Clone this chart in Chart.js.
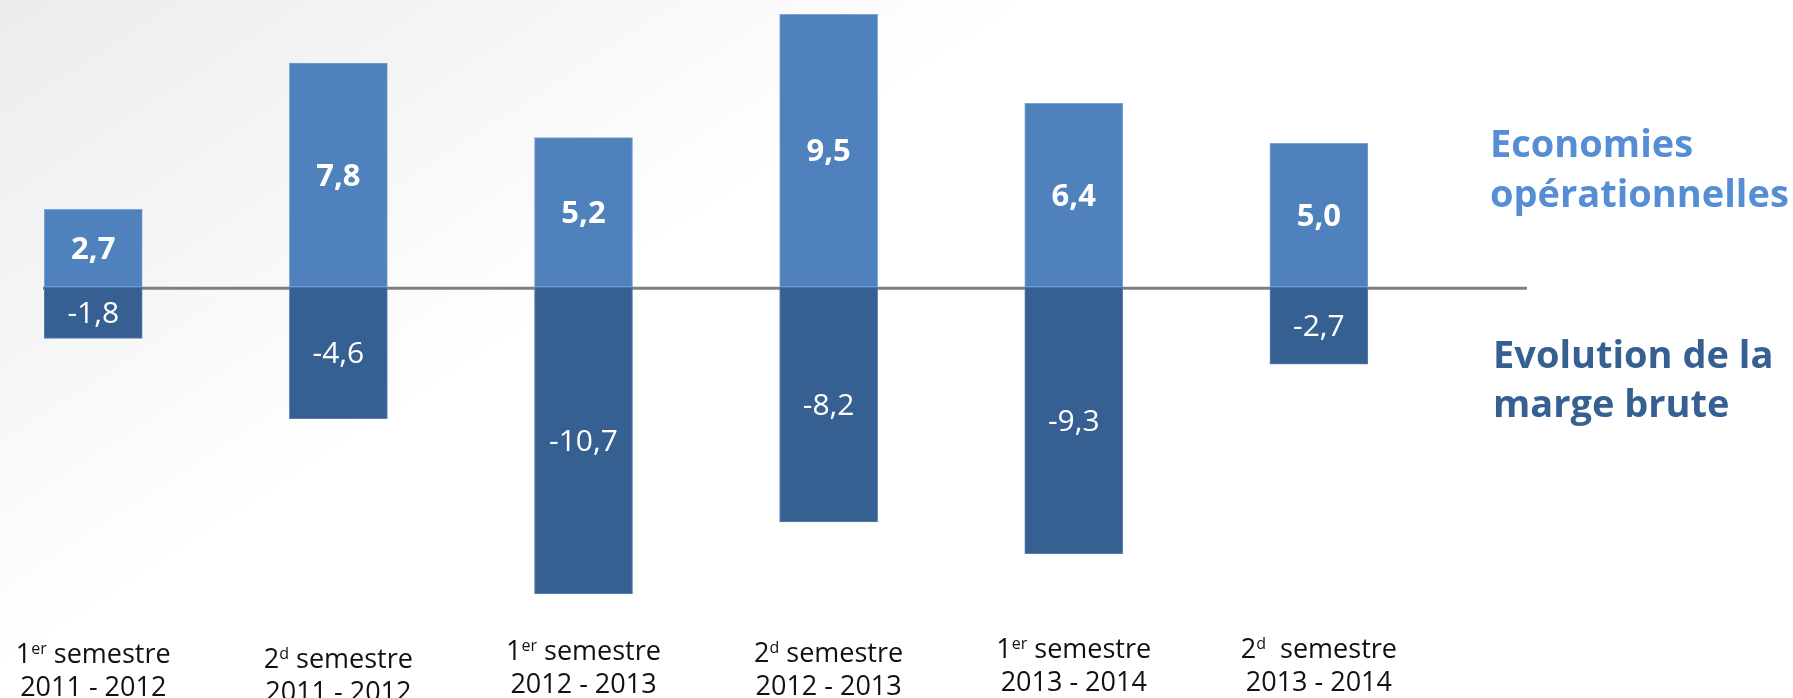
<!DOCTYPE html>
<html>
<head>
<meta charset="utf-8">
<script src="https://cdn.jsdelivr.net/npm/chart.js@4.4.1/dist/chart.umd.min.js"></script>
<style>
  html, body { margin: 0; padding: 0; }
  body {
    width: 1793px; height: 698px; overflow: hidden;
    background: linear-gradient(147deg, #ececec 0%, #f6f6f6 20%, #ffffff 36%);
  }
  canvas { display: block; }
</style>
</head>
<body>
<canvas id="chart" width="1793" height="698"></canvas>
<script>
// categories: "1er semestre 2011 - 2012" etc, split so the ordinal can be superscripted
const semesterNum = ['1', '2', '1', '2', '1', '2'];
const semesterSup = ['er', 'd', 'er', 'd', 'er', 'd'];
const semesterWord = [' semestre', ' semestre', ' semestre', ' semestre', ' semestre', '  semestre'];
const yearRanges = ['2011 - 2012', '2011 - 2012', '2012 - 2013', '2012 - 2013', '2013 - 2014', '2013 - 2014'];

const economies = [2.7, 7.8, 5.2, 9.5, 6.4, 5.0];
const margeBrute = [-1.8, -4.6, -10.7, -8.2, -9.3, -2.7];

const legendLines = [['Economies', 'opérationnelles'], ['Evolution de la', 'marge brute']];

// small vertical wobble of the category labels in the original slide
const labelShift = [2, 7, -1, 1, -3, -3];

const FONT = '"Open Sans", "Noto Sans", sans-serif';
const fmt = v => v.toFixed(1).replace('.', ',');

const zeroLine = {
  id: 'zeroLine',
  beforeDatasetsDraw(chart) {
    const { ctx, chartArea, scales } = chart;
    const y = scales.y.getPixelForValue(0);
    ctx.save();
    ctx.strokeStyle = '#7f7f7f';
    ctx.lineWidth = 3;
    ctx.beginPath();
    ctx.moveTo(chartArea.left, y + 1.5);
    ctx.lineTo(chartArea.right, y + 1.5);
    ctx.stroke();
    ctx.restore();
  }
};

const textLayer = {
  id: 'textLayer',
  afterDatasetsDraw(chart) {
    const { ctx, scales } = chart;
    ctx.save();
    ctx.fillStyle = '#ffffff';
    ctx.textAlign = 'center';
    ctx.textBaseline = 'middle';
    chart.data.datasets.forEach((ds, di) => {
      ctx.font = (di === 0 ? 'bold 31px ' : '30px ') + FONT;
      chart.getDatasetMeta(di).data.forEach((bar, i) => {
        ctx.fillText(fmt(ds.data[i].y), bar.x, (bar.y + bar.base) / 2 + 2);
      });
    });

    // category labels
    ctx.fillStyle = '#111111';
    ctx.textBaseline = 'alphabetic';
    ctx.textAlign = 'left';
    semesterNum.forEach((num, i) => {
      const cx = scales.x.getPixelForValue(i);
      const base1 = 661 + labelShift[i];
      ctx.font = '27px ' + FONT;
      const wNum = ctx.measureText(num).width;
      const wWord = ctx.measureText(semesterWord[i]).width;
      ctx.font = '16px ' + FONT;
      const wSup = ctx.measureText(semesterSup[i]).width;
      let x = cx - (wNum + wSup + wWord) / 2;
      ctx.font = '27px ' + FONT;
      ctx.fillText(num, x, base1);
      x += wNum;
      ctx.font = '16px ' + FONT;
      ctx.fillText(semesterSup[i], x, base1 - 9);
      x += wSup;
      ctx.font = '27px ' + FONT;
      ctx.fillText(semesterWord[i], x, base1);
      ctx.textAlign = 'center';
      ctx.fillText(yearRanges[i], cx, base1 + 33);
      ctx.textAlign = 'left';
    });

    // series names on the right
    ctx.font = 'bold 38px ' + FONT;
    ctx.fillStyle = '#558ed5';
    ctx.fillText(legendLines[0][0], 1490, 157);
    ctx.fillText(legendLines[0][1], 1490, 207);
    ctx.fillStyle = '#376092';
    ctx.fillText(legendLines[1][0], 1493, 368);
    ctx.fillText(legendLines[1][1], 1493, 417);
    ctx.restore();
  }
};

new Chart(document.getElementById('chart'), {
  type: 'bar',
  data: {
    datasets: [
      {
        label: legendLines[0].join(' '),
        data: economies.map((v, i) => ({ x: i, y: v })),
        backgroundColor: '#4f81bd',
        borderColor: '#7aa2d6',
        borderWidth: 1,
        borderSkipped: false,
        barThickness: 98
      },
      {
        label: legendLines[1].join(' '),
        data: margeBrute.map((v, i) => ({ x: i, y: v })),
        backgroundColor: '#376092',
        borderColor: '#5a80b2',
        borderWidth: 1,
        borderSkipped: false,
        barThickness: 98
      }
    ]
  },
  options: {
    responsive: false,
    animation: false,
    layout: { padding: { left: 43, right: 266, top: 0, bottom: 67 } },
    plugins: { legend: { display: false }, tooltip: { enabled: false } },
    scales: {
      x: { type: 'linear', min: -0.205, max: 5.849, offset: false, stacked: true, display: false },
      y: { min: -12, max: 10, stacked: true, display: false }
    }
  },
  plugins: [zeroLine, textLayer]
});
</script>
</body>
</html>
